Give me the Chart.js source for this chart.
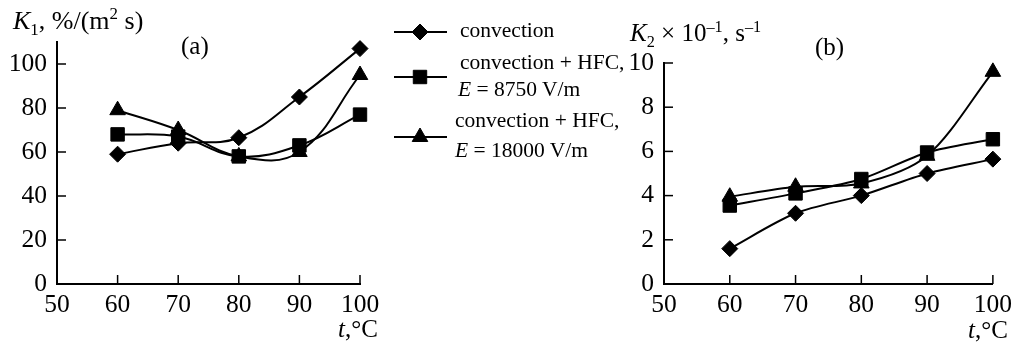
<!DOCTYPE html>
<html>
<head>
<meta charset="utf-8">
<script src="https://cdn.jsdelivr.net/npm/chart.js@4"></script>
<style>
body{margin:0;background:#fff;width:1018px;height:345px;overflow:hidden;position:relative;font-family:"Liberation Serif",serif;color:#000}
canvas{position:absolute;top:0}
.t{position:absolute;line-height:1;white-space:nowrap;font-size:24px}
.lg{position:absolute;line-height:1;white-space:nowrap;font-size:21.5px}
sub,sup{font-size:0.65em;line-height:0}
</style>
</head>
<body>
<canvas id="chartA" width="400" height="345" style="left:0;width:400px;height:345px"></canvas>
<canvas id="chartB" width="418" height="345" style="left:600px;width:418px;height:345px"></canvas>
<canvas id="legend" width="70" height="150" style="left:385px;top:10px;width:70px;height:150px"></canvas>

<div class="t" style="left:13px;top:8px;font-size:26px"><i>K</i><sub>1</sub>, %/(m<sup>2</sup> s)</div>
<div class="t" style="left:181px;top:33px;font-size:25px">(a)</div>
<div class="t" style="left:338px;top:316px;font-size:25px"><i>t</i>,°C</div>
<div class="t" style="left:630px;top:20px;font-size:25px"><i>K</i><sub>2</sub> × 10<sup>–1</sup>, s<sup>–1</sup></div>
<div class="t" style="left:815px;top:34px;font-size:25px">(b)</div>
<div class="t" style="left:968px;top:317px;font-size:25px"><i>t</i>,°C</div>

<div class="lg" style="left:460px;top:20px">convection</div>
<div class="lg" style="left:460px;top:52px">convection + HFC,</div>
<div class="lg" style="left:458px;top:79px"><i>E</i> = 8750 V/m</div>
<div class="lg" style="left:455px;top:110px">convection + HFC,</div>
<div class="lg" style="left:455px;top:140px"><i>E</i> = 18000 V/m</div>

<script>
let temps=[60,70,80,90,100]
let k1Conv=[59,64,66.5,85,107]
let k1Hfc8750=[68,67,58,63,77]
let k1Hfc18000=[79,70,58,60,95]
let k2Conv=[1.6,3.2,4.0,5.0,5.65]
let k2Hfc8750=[3.55,4.1,4.75,5.95,6.55]
let k2Hfc18000=[3.95,4.4,4.55,5.8,9.6]
let xTicks=[50,60,70,80,90,100]
let k1Ticks=[0,20,40,60,80,100]
let k2Ticks=[0,2,4,6,8,10]

Chart.defaults.font.family="Liberation Serif"
Chart.defaults.font.size=25.5
Chart.defaults.color="#000"

let styles=[
{pointStyle:"rectRot",pointRadius:8},
{pointStyle:"rect",pointRadius:9.5},
{pointStyle:"triangle",pointRadius:9}
]

function makeSets(lists,tension){
return lists.map((vals,i)=>({
data:temps.map((t,j)=>({x:t,y:vals[j]})),
borderColor:"#000",
backgroundColor:"#000",
borderWidth:2,
pointBackgroundColor:"#000",
pointBorderColor:"#000",
pointBorderWidth:1,
pointStyle:styles[i].pointStyle,
pointRadius:styles[i].pointRadius,
tension:tension,
clip:false
}))
}

// ticks pointing into the plot
const inwardTicks={
id:"inwardTicks",
afterDatasetsDraw(chart){
let ctx=chart.ctx,a=chart.chartArea,x=chart.scales.x,y=chart.scales.y
ctx.save()
ctx.strokeStyle="#000"
ctx.lineWidth=1.5
x.ticks.forEach(t=>{
let px=x.getPixelForValue(t.value)
ctx.beginPath();ctx.moveTo(px,a.bottom);ctx.lineTo(px,a.bottom-9);ctx.stroke()
})
y.ticks.forEach(t=>{
let py=y.getPixelForValue(t.value)
ctx.beginPath();ctx.moveTo(a.left,py);ctx.lineTo(a.left+9,py);ctx.stroke()
})
ctx.restore()
}
}

function makeChart(id,sets,yMax,yTicks,yWidth,pad,tension){
return new Chart(document.getElementById(id),{
type:"line",
data:{datasets:makeSets(sets,tension)},
options:{
responsive:false,
animation:false,
layout:{padding:pad},
plugins:{legend:{display:false},tooltip:{enabled:false}},
scales:{
x:{
type:"linear",min:50,max:100,
afterBuildTicks:s=>{s.ticks=xTicks.map(v=>({value:v}))},
afterFit:s=>{s.height=61},
grid:{display:false,drawTicks:false},
border:{display:true,color:"#000",width:2},
ticks:{padding:6}
},
y:{
min:0,max:yMax,
afterBuildTicks:s=>{s.ticks=yTicks.map(v=>({value:v}))},
afterFit:s=>{s.width=yWidth},
grid:{display:false,drawTicks:false},
border:{display:true,color:"#000",width:2},
ticks:{padding:10}
}
}
},
plugins:[inwardTicks]
})
}

makeChart("chartA",[k1Conv,k1Hfc8750,k1Hfc18000],110,k1Ticks,57,{top:42,right:40,bottom:0,left:0},0.4)
makeChart("chartB",[k2Conv,k2Hfc8750,k2Hfc18000],10,k2Ticks,64,{top:63,right:21,bottom:0,left:0},0.3)

// legend samples
let lc=document.getElementById("legend").getContext("2d")
let rows=[22,67,127]
lc.strokeStyle="#000"
lc.fillStyle="#000"
rows.forEach((y,i)=>{
lc.lineWidth=2
lc.beginPath();lc.moveTo(9,y);lc.lineTo(62,y);lc.stroke()
lc.lineWidth=1
Chart.helpers.drawPoint(lc,{pointStyle:styles[i].pointStyle,radius:styles[i].pointRadius,rotation:0,borderWidth:1},35,y)
})
</script>
</body>
</html>
